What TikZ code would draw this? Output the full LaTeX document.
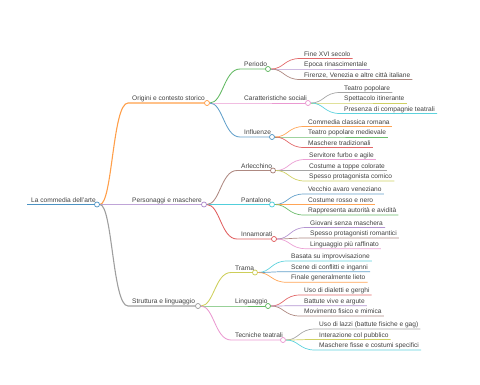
\documentclass[tikz,border=0pt]{standalone}
\usepackage{fontspec}
\setmainfont{Liberation Sans}
\usetikzlibrary{backgrounds}
\definecolor{mmblue}{HTML}{1F77B4}
\definecolor{mmorange}{HTML}{FF7F0E}
\definecolor{mmgreen}{HTML}{2CA02C}
\definecolor{mmred}{HTML}{D62728}
\definecolor{mmpurple}{HTML}{9467BD}
\definecolor{mmbrown}{HTML}{8C564B}
\definecolor{mmpink}{HTML}{E377C2}
\definecolor{mmgray}{HTML}{7F7F7F}
\definecolor{mmolive}{HTML}{BCBD22}
\definecolor{mmcyan}{HTML}{17BECF}
\begin{document}
\begin{tikzpicture}[x=1pt, y=-1pt,
	lbl/.style={anchor=base west, inner xsep=2pt, inner ysep=0pt, xshift=2pt, yshift=2.5pt, text=black!75, font=\fontsize{6.6}{7}\selectfont},
	dot/.style={circle, draw=#1!80, fill=white, line width=0.7pt, inner sep=0pt, minimum size=5pt},
	d0/.style={line width=1.5pt}, d1/.style={line width=1.1pt},
	d2/.style={line width=0.85pt}, d3/.style={line width=0.7pt}]
	\useasboundingbox (0,0) rectangle (480,384);
	\path (27,204.5) coordinate (root-a) node[lbl] (root) {La commedia dell'arte};
	\path (128,103) coordinate (orig-a) node[lbl] (orig) {Origini e contesto storico};
	\path (128,204.5) coordinate (pers-a) node[lbl] (pers) {Personaggi e maschere};
	\path (128,306) coordinate (strut-a) node[lbl] (strut) {Struttura e linguaggio};
	\path (240,69) coordinate (peri-a) node[lbl] (peri) {Periodo};
	\path (240,103) coordinate (cara-a) node[lbl] (cara) {Caratteristiche sociali};
	\path (240,137) coordinate (infl-a) node[lbl] (infl) {Influenze};
	\path (237,170.5) coordinate (arle-a) node[lbl] (arle) {Arlecchino};
	\path (237,204.5) coordinate (pant-a) node[lbl] (pant) {Pantalone};
	\path (237,239) coordinate (inna-a) node[lbl] (inna) {Innamorati};
	\path (231,272.5) coordinate (trama-a) node[lbl] (trama) {Trama};
	\path (231,306) coordinate (lingu-a) node[lbl] (lingu) {Linguaggio};
	\path (231,340) coordinate (tecn-a) node[lbl] (tecn) {Tecniche teatrali};
	\path (300,58.5) coordinate (fine-a) node[lbl] (fine) {Fine XVI secolo};
	\path (300,69) coordinate (epoca-a) node[lbl] (epoca) {Epoca rinascimentale};
	\path (300,79.5) coordinate (firen-a) node[lbl] (firen) {Firenze, Venezia e altre città italiane};
	\path (340,92.5) coordinate (teat-a) node[lbl] (teat) {Teatro popolare};
	\path (340,103) coordinate (spett-a) node[lbl] (spett) {Spettacolo itinerante};
	\path (340,113.5) coordinate (pres-a) node[lbl] (pres) {Presenza di compagnie teatrali};
	\path (304,126.5) coordinate (comm-a) node[lbl] (comm) {Commedia classica romana};
	\path (304,137) coordinate (medi-a) node[lbl] (medi) {Teatro popolare medievale};
	\path (304,147.5) coordinate (masch-a) node[lbl] (masch) {Maschere tradizionali};
	\path (305,159.5) coordinate (serv-a) node[lbl] (serv) {Servitore furbo e agile};
	\path (305,170.5) coordinate (topp-a) node[lbl] (topp) {Costume a toppe colorate};
	\path (305,181) coordinate (comi-a) node[lbl] (comi) {Spesso protagonista comico};
	\path (304,194) coordinate (vecc-a) node[lbl] (vecc) {Vecchio avaro veneziano};
	\path (304,204.5) coordinate (ross-a) node[lbl] (ross) {Costume rosso e nero};
	\path (304,215) coordinate (auto-a) node[lbl] (auto) {Rappresenta autorità e avidità};
	\path (306,227.5) coordinate (giov-a) node[lbl] (giov) {Giovani senza maschera};
	\path (306,238) coordinate (roma-a) node[lbl] (roma) {Spesso protagonisti romantici};
	\path (306,248.7) coordinate (raff-a) node[lbl] (raff) {Linguaggio più raffinato};
	\path (287,261) coordinate (impr-a) node[lbl] (impr) {Basata su improvvisazione};
	\path (287,271.7) coordinate (conf-a) node[lbl] (conf) {Scene di conflitti e inganni};
	\path (287,282.3) coordinate (liet-a) node[lbl] (liet) {Finale generalmente lieto};
	\path (300,295) coordinate (dial-a) node[lbl] (dial) {Uso di dialetti e gerghi};
	\path (300,305.7) coordinate (batt-a) node[lbl] (batt) {Battute vive e argute};
	\path (300,316) coordinate (mimi-a) node[lbl] (mimi) {Movimento fisico e mimica};
	\path (315,329) coordinate (lazz-a) node[lbl] (lazz) {Uso di lazzi (battute fisiche e gag)};
	\path (315,339.5) coordinate (pubb-a) node[lbl] (pubb) {Interazione col pubblico};
	\path (315,350) coordinate (fiss-a) node[lbl] (fiss) {Maschere fisse e costumi specifici};
	\node[dot=mmblue] (root-c) at (97,204.5) {};
	\node[dot=mmorange] (orig-c) at (207,103) {};
	\node[dot=mmpurple] (pers-c) at (204,204.5) {};
	\node[dot=mmgray] (strut-c) at (198,306) {};
	\node[dot=mmgreen] (peri-c) at (268,69) {};
	\node[dot=mmpink] (cara-c) at (308,103) {};
	\node[dot=mmblue] (infl-c) at (272,137) {};
	\node[dot=mmbrown] (arle-c) at (273,170.5) {};
	\node[dot=mmcyan] (pant-c) at (272,204.5) {};
	\node[dot=mmred] (inna-c) at (274,239) {};
	\node[dot=mmolive] (trama-c) at (255,272.5) {};
	\node[dot=mmgreen] (lingu-c) at (268,306) {};
	\node[dot=mmpink] (tecn-c) at (283,340) {};
	\begin{scope}[on background layer]
		\draw[d0, mmblue!80] (root-a) -- (root-c);
		\draw[d1, mmorange!75] (root-c) .. controls +(15.5,0) and +(-15.5,0) .. (orig-a) -- (orig-c);
		\draw[d1, mmpurple!60] (root-c) .. controls +(15.5,0) and +(-15.5,0) .. (pers-a) -- (pers-c);
		\draw[d1, mmgray!75] (root-c) .. controls +(15.5,0) and +(-15.5,0) .. (strut-a) -- (strut-c);
		\draw[d2, mmgreen!75] (orig-c) .. controls +(16,0) and +(-16,0) .. (peri-a) -- (peri-c);
		\draw[d2, mmpink!75] (orig-c) .. controls +(16,0) and +(-16,0) .. (cara-a) -- (cara-c);
		\draw[d2, mmblue!70] (orig-c) .. controls +(16,0) and +(-16,0) .. (infl-a) -- (infl-c);
		\draw[d2, mmbrown!70] (pers-c) .. controls +(16,0) and +(-16,0) .. (arle-a) -- (arle-c);
		\draw[d2, mmcyan!75] (pers-c) .. controls +(16,0) and +(-16,0) .. (pant-a) -- (pant-c);
		\draw[d2, mmred!75] (pers-c) .. controls +(16,0) and +(-16,0) .. (inna-a) -- (inna-c);
		\draw[d2, mmolive!75] (strut-c) .. controls +(16,0) and +(-16,0) .. (trama-a) -- (trama-c);
		\draw[d2, mmgreen!75] (strut-c) .. controls +(16,0) and +(-16,0) .. (lingu-a) -- (lingu-c);
		\draw[d2, mmpink!75] (strut-c) .. controls +(16,0) and +(-16,0) .. (tecn-a) -- (tecn-c);
		\draw[d3, mmred!70] (peri-c) .. controls +(16,0) and +(-16,0) .. (fine-a) -- (fine-a -| fine.east);
		\draw[d3, mmpurple!70] (peri-c) .. controls +(16,0) and +(-16,0) .. (epoca-a) -- (epoca-a -| epoca.east);
		\draw[d3, mmbrown!70] (peri-c) .. controls +(16,0) and +(-16,0) .. (firen-a) -- (firen-a -| firen.east);
		\draw[d3, mmgray!70] (cara-c) .. controls +(16,0) and +(-16,0) .. (teat-a) -- (teat-a -| teat.east);
		\draw[d3, mmolive!70] (cara-c) .. controls +(16,0) and +(-16,0) .. (spett-a) -- (spett-a -| spett.east);
		\draw[d3, mmcyan!70] (cara-c) .. controls +(16,0) and +(-16,0) .. (pres-a) -- (pres-a -| pres.east);
		\draw[d3, mmorange!70] (infl-c) .. controls +(16,0) and +(-16,0) .. (comm-a) -- (comm-a -| comm.east);
		\draw[d3, mmgreen!70] (infl-c) .. controls +(16,0) and +(-16,0) .. (medi-a) -- (medi-a -| medi.east);
		\draw[d3, mmred!70] (infl-c) .. controls +(16,0) and +(-16,0) .. (masch-a) -- (masch-a -| masch.east);
		\draw[d3, mmpink!70] (arle-c) .. controls +(16,0) and +(-16,0) .. (serv-a) -- (serv-a -| serv.east);
		\draw[d3, mmgray!70] (arle-c) .. controls +(16,0) and +(-16,0) .. (topp-a) -- (topp-a -| topp.east);
		\draw[d3, mmolive!70] (arle-c) .. controls +(16,0) and +(-16,0) .. (comi-a) -- (comi-a -| comi.east);
		\draw[d3, mmblue!70] (pant-c) .. controls +(16,0) and +(-16,0) .. (vecc-a) -- (vecc-a -| vecc.east);
		\draw[d3, mmorange!70] (pant-c) .. controls +(16,0) and +(-16,0) .. (ross-a) -- (ross-a -| ross.east);
		\draw[d3, mmgreen!70] (pant-c) .. controls +(16,0) and +(-16,0) .. (auto-a) -- (auto-a -| auto.east);
		\draw[d3, mmpurple!70] (inna-c) .. controls +(16,0) and +(-16,0) .. (giov-a) -- (giov-a -| giov.east);
		\draw[d3, mmbrown!70] (inna-c) .. controls +(16,0) and +(-16,0) .. (roma-a) -- (roma-a -| roma.east);
		\draw[d3, mmpink!70] (inna-c) .. controls +(16,0) and +(-16,0) .. (raff-a) -- (raff-a -| raff.east);
		\draw[d3, mmcyan!70] (trama-c) .. controls +(16,0) and +(-16,0) .. (impr-a) -- (impr-a -| impr.east);
		\draw[d3, mmblue!70] (trama-c) .. controls +(16,0) and +(-16,0) .. (conf-a) -- (conf-a -| conf.east);
		\draw[d3, mmorange!70] (trama-c) .. controls +(16,0) and +(-16,0) .. (liet-a) -- (liet-a -| liet.east);
		\draw[d3, mmred!70] (lingu-c) .. controls +(16,0) and +(-16,0) .. (dial-a) -- (dial-a -| dial.east);
		\draw[d3, mmpurple!70] (lingu-c) .. controls +(16,0) and +(-16,0) .. (batt-a) -- (batt-a -| batt.east);
		\draw[d3, mmbrown!70] (lingu-c) .. controls +(16,0) and +(-16,0) .. (mimi-a) -- (mimi-a -| mimi.east);
		\draw[d3, mmgray!70] (tecn-c) .. controls +(16,0) and +(-16,0) .. (lazz-a) -- (lazz-a -| lazz.east);
		\draw[d3, mmolive!70] (tecn-c) .. controls +(16,0) and +(-16,0) .. (pubb-a) -- (pubb-a -| pubb.east);
		\draw[d3, mmcyan!70] (tecn-c) .. controls +(16,0) and +(-16,0) .. (fiss-a) -- (fiss-a -| fiss.east);
	\end{scope}
\end{tikzpicture}
\end{document}
